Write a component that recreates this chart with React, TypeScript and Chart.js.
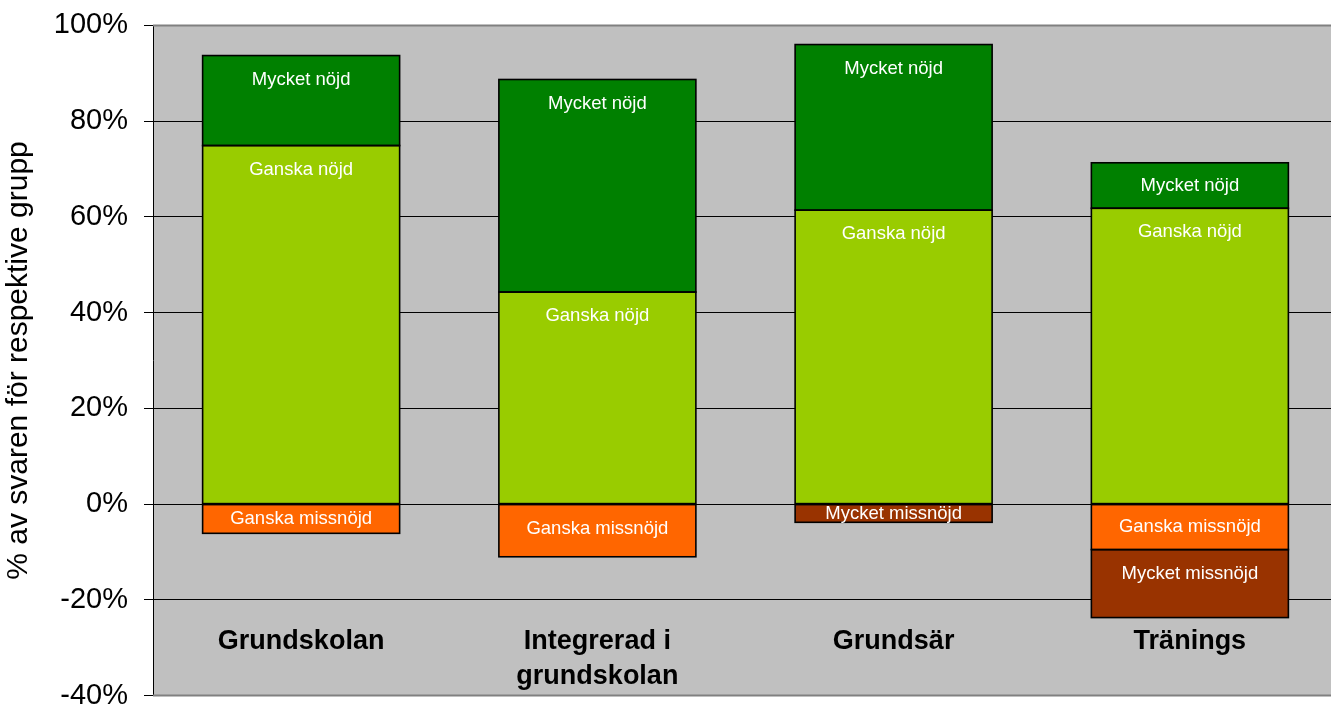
import React, { useEffect, useRef } from 'react';
import { Chart, registerables } from 'chart.js';

Chart.register(...registerables);

// ---- Data ----
const categories: string[][] = [['Grundskolan'], ['Integrerad i', 'grundskolan'], ['Grundsär'], ['Tränings']];
const seriesNames = ['Ganska nöjd', 'Mycket nöjd', 'Ganska missnöjd', 'Mycket missnöjd'];
const ganskaNojd: (number | null)[] = [74.9, 44.3, 61.4, 61.8];
const mycketNojd: (number | null)[] = [18.8, 44.4, 34.6, 9.5];
const ganskaMissnojd: (number | null)[] = [-6.1, -11.0, null, -9.5];
const mycketMissnojd: (number | null)[] = [null, null, -3.8, -14.2];
const yMin = -40;
const yMax = 100;
const yStep = 20;
const yTitle = '% av svaren för respektive grupp';

const seriesColors = ['#99CC00', '#008000', '#FF6600', '#993300'];
const FONT = '"Liberation Sans", Arial, Helvetica, sans-serif';

const bgPlugin = {
  id: 'plotBg',
  beforeDraw(chart: any) {
    const { ctx, chartArea } = chart;
    ctx.save();
    ctx.fillStyle = '#C0C0C0';
    ctx.fillRect(chartArea.left, chartArea.top, chartArea.right - chartArea.left, chartArea.bottom - chartArea.top);
    ctx.restore();
  },
  beforeDatasetsDraw(chart: any) {
    const { ctx, chartArea } = chart;
    ctx.save();
    ctx.strokeStyle = '#808080';
    ctx.lineWidth = 2;
    ctx.beginPath();
    ctx.moveTo(chartArea.left, chartArea.top);
    ctx.lineTo(chartArea.right, chartArea.top);
    ctx.moveTo(chartArea.left, chartArea.bottom);
    ctx.lineTo(chartArea.right, chartArea.bottom);
    ctx.stroke();
    ctx.restore();
  },
};

const outlineAndLabelPlugin = {
  id: 'segLabels',
  afterDatasetsDraw(chart: any) {
    const { ctx } = chart;
    ctx.save();
    // outlines
    ctx.strokeStyle = '#000000';
    ctx.lineWidth = 1.6;
    chart.data.datasets.forEach((ds: any, i: number) => {
      const meta = chart.getDatasetMeta(i);
      meta.data.forEach((el: any, j: number) => {
        const v = ds.data[j];
        if (v === null || v === undefined) return;
        const half = el.width / 2;
        const top = Math.min(el.y, el.base);
        const h = Math.abs(el.base - el.y);
        ctx.strokeRect(el.x - half, top, el.width, h);
      });
    });
    // labels
    ctx.font = `18.5px ${FONT}`;
    ctx.fillStyle = '#FFFFFF';
    ctx.textAlign = 'center';
    ctx.textBaseline = 'middle';
    chart.data.datasets.forEach((ds: any, i: number) => {
      const meta = chart.getDatasetMeta(i);
      meta.data.forEach((el: any, j: number) => {
        const v = ds.data[j];
        if (v === null || v === undefined) return;
        const top = Math.min(el.y, el.base);
        const h = Math.abs(el.base - el.y);
        const ty = top + Math.min(h / 2, 24);
        ctx.fillText(ds.label, el.x, ty);
      });
    });
    ctx.restore();
  },
};

const catPlugin = {
  id: 'catLabels',
  afterDraw(chart: any) {
    const { ctx, chartArea } = chart;
    const xs = chart.scales.x;
    ctx.save();
    ctx.font = `bold 27px ${FONT}`;
    ctx.fillStyle = '#000000';
    ctx.textAlign = 'center';
    ctx.textBaseline = 'middle';
    categories.forEach((lines, i) => {
      const x = xs.getPixelForValue(i);
      lines.forEach((ln, k) => {
        ctx.fillText(ln, x, chartArea.bottom - 54 + k * 35);
      });
    });
    ctx.restore();
  },
};

export default function App() {
  const ref = useRef<HTMLCanvasElement | null>(null);

  useEffect(() => {
    if (!ref.current) return;
    const seriesData = [ganskaNojd, mycketNojd, ganskaMissnojd, mycketMissnojd];
    const chart = new Chart(ref.current, {
      type: 'bar',
      data: {
        labels: categories.map((c) => c.join(' ')),
        datasets: seriesNames.map((name, i) => ({
          label: name,
          data: seriesData[i] as any,
          backgroundColor: seriesColors[i],
          borderWidth: 0,
          barPercentage: 0.665,
          categoryPercentage: 1,
          stack: 's',
        })),
      },
      options: {
        responsive: false,
        animation: false,
        devicePixelRatio: 1,
        layout: { padding: { left: 0, top: 0, right: 7, bottom: 0 } },
        plugins: {
          legend: { display: false },
          tooltip: { enabled: false },
        },
        scales: {
          x: {
            display: false,
            stacked: true,
          },
          y: {
            stacked: true,
            min: yMin,
            max: yMax,
            afterFit: (scale: any) => {
              scale.width = 153;
            },
            ticks: {
              stepSize: yStep,
              padding: 16,
              color: '#000000',
              font: { family: FONT, size: 29 },
              callback: (v: any) => `${v}%`,
            },
            grid: {
              color: '#000000',
              lineWidth: 1,
              tickLength: 9,
              drawOnChartArea: true,
            },
            border: { display: true, color: '#000000', width: 1 },
            title: {
              display: true,
              text: yTitle,
              color: '#000000',
              font: { family: FONT, size: 30 },
              padding: { top: 1, bottom: 0 },
            },
          },
        },
      },
      plugins: [bgPlugin, outlineAndLabelPlugin, catPlugin],
    });
    return () => chart.destroy();
  }, []);

  return (
    <div
      style={{
        position: 'fixed',
        left: 0,
        top: 0,
        width: 1331,
        height: 706,
        overflow: 'hidden',
        background: '#FFFFFF',
      }}
    >
      <canvas
        ref={ref}
        width={1345}
        height={737}
        style={{ display: 'block', position: 'absolute', left: 0, top: -8, width: 1345, height: 737 }}
      />
    </div>
  );
}
